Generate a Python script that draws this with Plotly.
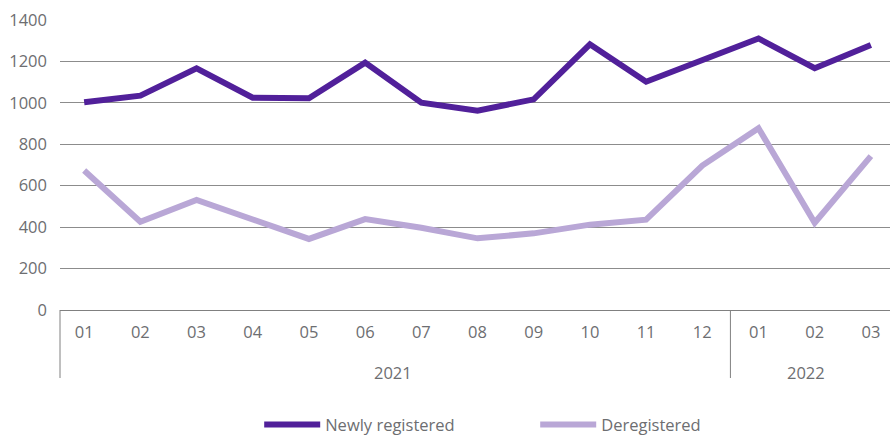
import plotly.graph_objects as go

months = ["01", "02", "03", "04", "05", "06", "07", "08", "09", "10", "11", "12", "01", "02", "03"]
years = ["2021", "2022"]
year_counts = [12, 3]
newly_registered = [1003, 1035, 1167, 1025, 1022, 1194, 1001, 962, 1017, 1283, 1102, 1205, 1311, 1167, 1279]
deregistered = [673, 426, 531, 435, 343, 439, 397, 346, 370, 412, 436, 697, 877, 421, 743]
y_ticks = [0, 200, 400, 600, 800, 1000, 1200, 1400]

x = list(range(len(months)))
text_color = "#6d6e71"
font_family = "Open Sans, Noto Sans, sans-serif"

fig = go.Figure()
fig.add_trace(go.Scatter(x=x, y=newly_registered, mode="lines", name="Newly registered",
                         line=dict(color="#51209a", width=6)))
fig.add_trace(go.Scatter(x=x, y=deregistered, mode="lines", name="Deregistered",
                         line=dict(color="#b9a7d6", width=6)))

# year group labels and dividers
start = 0
for yr, cnt in zip(years, year_counts):
    end = start + cnt - 1
    center = (start + end) / 2 if yr != years[-1] else start + 0.85
    fig.add_annotation(x=center, y=0, xref="x", yref="paper", text=yr, showarrow=False,
                       yanchor="middle", yshift=-62,
                       font=dict(size=16.5, color=text_color, family=font_family))
    start += cnt
fig.add_shape(type="line", xref="x", yref="paper", x0=year_counts[0] - 0.5, x1=year_counts[0] - 0.5,
              y0=0, y1=-68 / 290, line=dict(color="#808080", width=1))
fig.add_shape(type="line", xref="paper", yref="paper", x0=0, x1=0,
              y0=0, y1=-68 / 290, line=dict(color="#808080", width=1))

fig.update_layout(
    width=890, height=436,
    margin=dict(l=60, r=0, t=20, b=126, autoexpand=False),
    plot_bgcolor="white", paper_bgcolor="white",
    font=dict(family=font_family, size=16.5, color=text_color),
    showlegend=True,
    legend=dict(orientation="h", x=0.240, xanchor="left", y=-0.396, yanchor="middle",
                font=dict(size=16.5, color=text_color), entrywidth=205, entrywidthmode="pixels",
                itemwidth=56),
    xaxis=dict(range=[-0.43, 14.34], tickvals=x, ticktext=months, showgrid=False,
               showline=True, linecolor="#808080", linewidth=1, zeroline=False,
               ticks="", ticklabelstandoff=7, fixedrange=True, automargin=False),
    yaxis=dict(range=[0, 1400], tickvals=y_ticks, showgrid=True, gridcolor="#8c8c8c",
               gridwidth=1, zeroline=False, ticks="", ticklabelstandoff=12, showline=False,
               automargin=False, fixedrange=True),
)

fig.write_html("out.html", post_script="document.body.style.margin='0';",
               config={"displayModeBar": False, "staticPlot": True})
